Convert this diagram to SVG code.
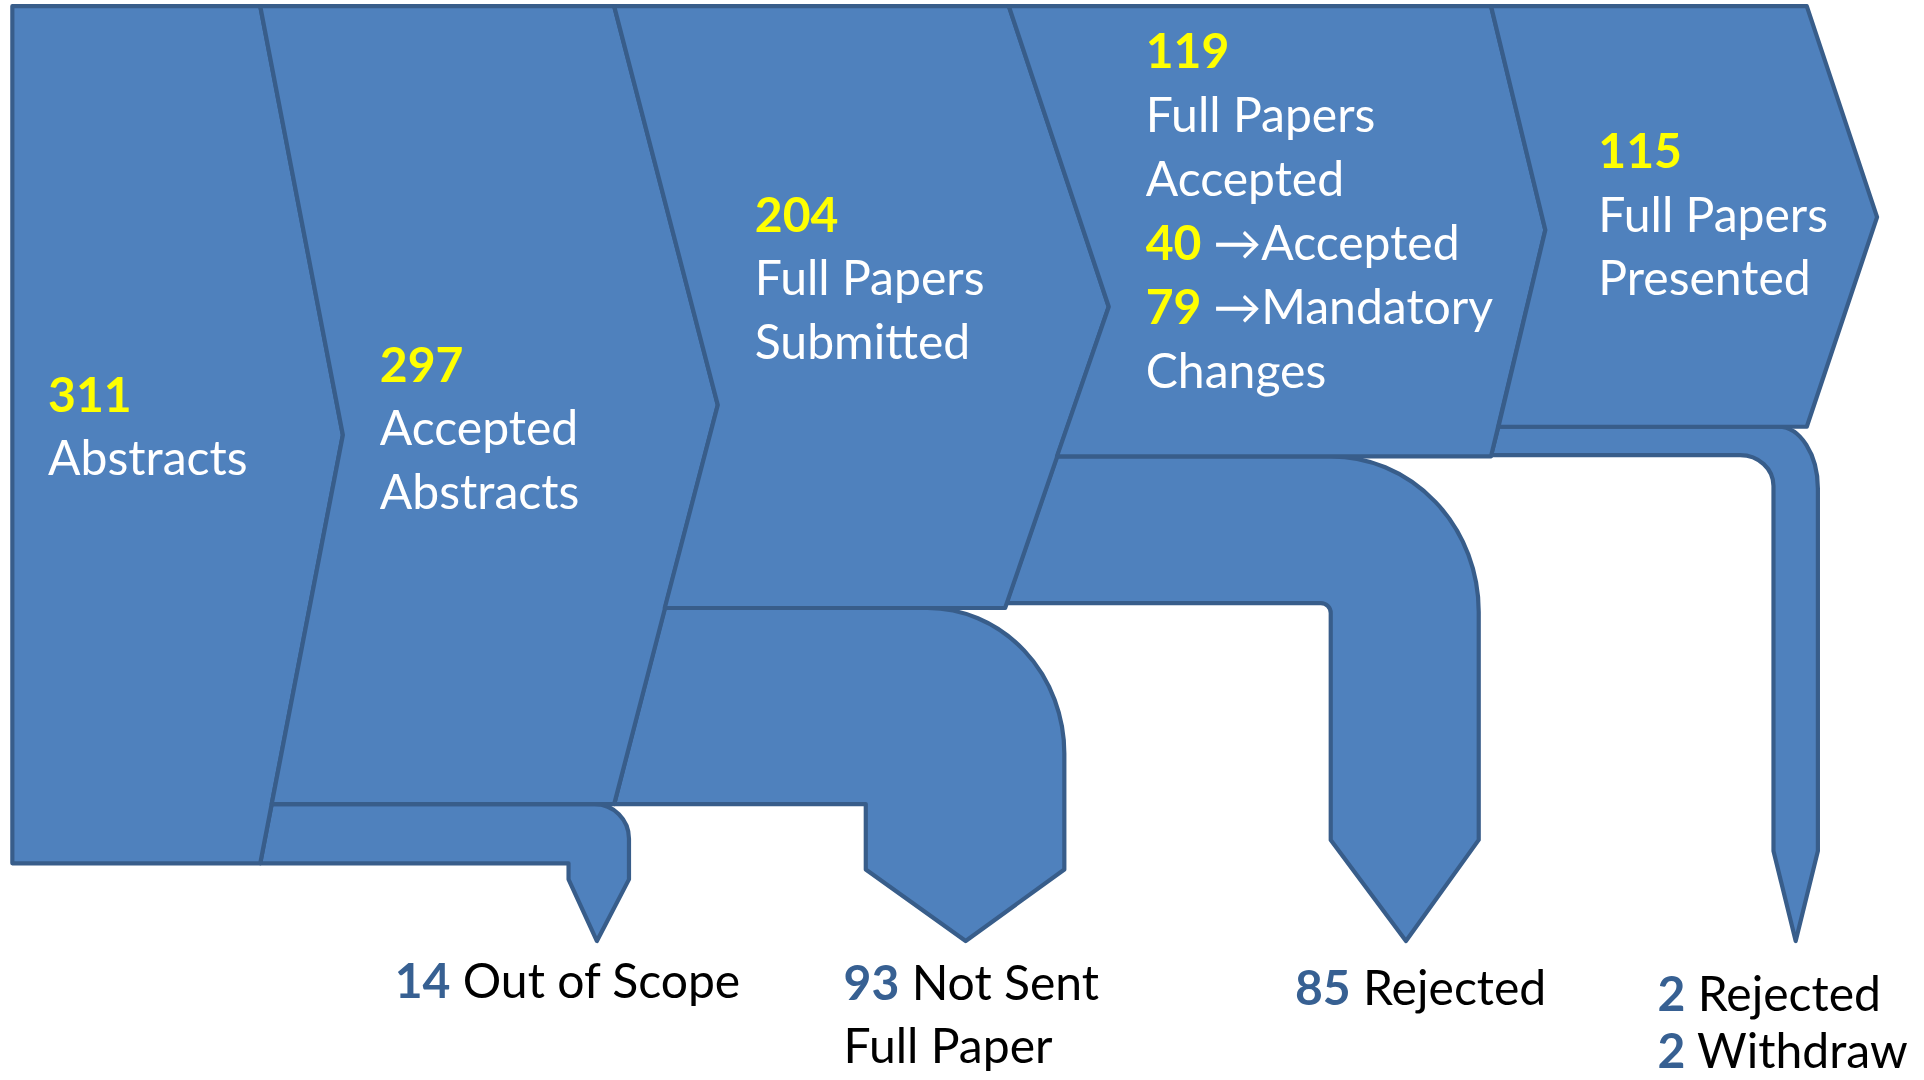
<svg xmlns="http://www.w3.org/2000/svg" width="1924" height="1080" viewBox="0 0 1924 1080">
<style>
.shape{fill:#4F81BD;stroke:#385D8A;stroke-width:3.4;stroke-linejoin:round}
.t{font-family:Lato,'Open Sans',sans-serif;font-size:39px}
.w{fill:#FFFFFF}
.y{fill:#FFFF00;font-weight:bold}
.k{fill:#000000}
.n{fill:#376092;font-weight:bold}
</style>
<rect x="0" y="0" width="1924" height="1080" fill="#FFFFFF"/>
<g transform="scale(1.2333)">
<g id="connectors">
<path class="shape" d="M220.3,652 L482,652 A28,28 0 0 1 510,680 L510,713 L484,763 L461,713 L461,700 L211,700 Z"/>
<path class="shape" d="M539,493 L752,493 A111,118 0 0 1 863,611 L863,705 L783,763 L702,705 L702,652 L498,652 Z"/>
<path class="shape" d="M857,370 L1079,370 A120,126 0 0 1 1199,496 L1199,681 L1140,763 L1079,681 L1079,497 A8,8 0 0 0 1071,489 L816,489 Z"/>
<path class="shape" d="M1215,346 L1442,346 A32,50 0 0 1 1474,396 L1474,690 L1456,763 L1438,690 L1438,394 A27,25 0 0 0 1411,369 L1209,369 Z"/>
</g>
<g id="stage1">
<path class="shape" d="M10,5 L211,5 L278,352.7 L211,700 L10,700 Z"/>
<text class="t y" x="39" y="334">311</text>
<text class="t w" x="39" y="385">Abstracts</text>
</g>
<g id="stage2">
<path class="shape" d="M211,5 L498,5 L582,328.4 L498,652 L220.3,652 L278,352.7 Z"/>
<text class="t y" x="308" y="310">297</text>
<text class="t w" x="308" y="361">Accepted</text>
<text class="t w" x="308" y="413">Abstracts</text>
</g>
<g id="stage3">
<path class="shape" d="M498,5 L818,5 L899,248.7 L815,493 L539,493 L582,328.4 Z"/>
<text class="t y" x="612" y="188">204</text>
<text class="t w" x="612" y="239">Full Papers</text>
<text class="t w" x="612" y="291">Submitted</text>
</g>
<g id="stage4">
<path class="shape" d="M818,5 L1209,5 L1253,186.5 L1209,370 L857,370 L899,248.7 Z"/>
<text class="t y" x="929" y="55">119</text>
<text class="t w" x="929" y="107">Full Papers</text>
<text class="t w" x="929" y="159">Accepted</text>
<text class="t" x="929" y="211"><tspan class="y">40 </tspan><tspan class="w">→Accepted</tspan></text>
<text class="t" x="929" y="263"><tspan class="y">79 </tspan><tspan class="w">→Mandatory</tspan></text>
<text class="t w" x="929" y="315">Changes</text>
</g>
<g id="stage5">
<path class="shape" d="M1209,5 L1465,5 L1522,176 L1465,346 L1215,346 L1253,186.5 Z"/>
<text class="t y" x="1296" y="136">115</text>
<text class="t w" x="1296" y="188">Full Papers</text>
<text class="t w" x="1296" y="239">Presented</text>
</g>
<g id="loss1">
<text class="t k" x="320" y="809"><tspan class="n">14</tspan> Out of Scope</text>
</g>
<g id="loss2">
<text class="t k" x="684" y="811"><tspan class="n">93</tspan> Not Sent</text>
<text class="t k" x="684" y="862">Full Paper</text>
</g>
<g id="loss3">
<text class="t k" x="1050" y="815"><tspan class="n">85</tspan> Rejected</text>
</g>
<g id="loss4">
<text class="t k" x="1344" y="820"><tspan class="n">2</tspan> Rejected</text>
<text class="t k" x="1344" y="866"><tspan class="n">2</tspan> Withdraw</text>
</g>
</g>
</svg>
